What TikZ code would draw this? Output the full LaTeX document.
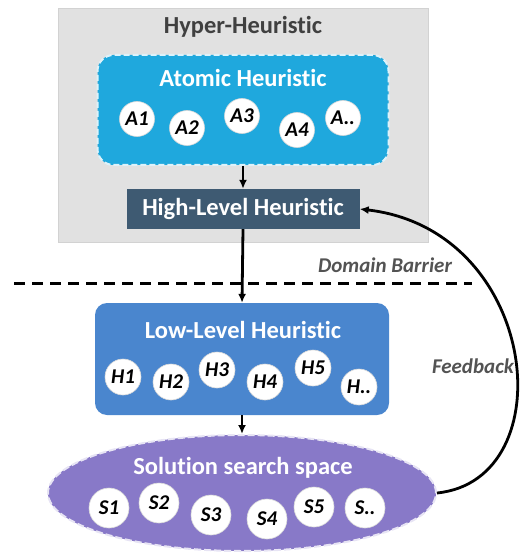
\documentclass[tikz,border=0pt]{standalone}
\usepackage{fontspec}
\setmainfont[Ligatures={NoCommon}]{Carlito}
\usetikzlibrary{shapes.geometric,arrows.meta}
\definecolor{hyperbg}{HTML}{E1E1E1}
\definecolor{hyperbd}{HTML}{D2D2D2}
\definecolor{atomicc}{HTML}{1FA8DD}
\definecolor{highc}{HTML}{3E5A72}
\definecolor{lowc}{HTML}{4A86CE}
\definecolor{solc}{HTML}{8879C8}
\definecolor{txtgray}{HTML}{404040}
\tikzset{
  circ/.style={circle,fill=white,draw=white!85!black,line width=0.6pt,minimum size=#1,inner sep=0pt,font=\fontsize{21}{23}\selectfont\bfseries\itshape},
  circ/.default=35pt,
  arr/.style={-{Latex[length=9pt,width=8pt]},line width=2.8pt,black},
  title/.style={font=\fontsize{24.5}{28}\selectfont\bfseries,text=white},
  lbl/.style={font=\fontsize{21}{24}\selectfont\bfseries\itshape,text=txtgray!90!white}
}
\begin{document}
\begin{tikzpicture}[x=1pt,y=-1pt]
\useasboundingbox (0,0) rectangle (520,553);
% Hyper-Heuristic container
\node[draw=hyperbd,fill=hyperbg,minimum width=370pt,minimum height=234pt,inner sep=0pt] (hyper) at (243,125) {};
\node[font=\fontsize{24.5}{28}\selectfont\bfseries,text=txtgray] (hypert) at (243,27) {Hyper-Heuristic};
% Atomic heuristic
\node[fill=atomicc,draw=white!85!atomicc,dash pattern=on 6pt off 3pt,line width=2pt,rounded corners=16pt,minimum width=291pt,minimum height=110pt,inner sep=0pt] (atomic) at (243,110) {};
\node[title] (atomict) at (243,78) {Atomic Heuristic};
\node[circ] (a1) at (137,119) {A1};
\node[circ] (a2) at (187,128) {A2};
\node[circ] (a3) at (242,116) {A3};
\node[circ] (a4) at (297,130) {A4};
\node[circ] (a5) at (343,118) {A..};
% High-level heuristic
\node[fill=highc,minimum width=233pt,minimum height=40pt,inner sep=0pt,title] (high) at (243,209) {High-Level Heuristic};
% Domain barrier
\coordinate (bl) at (14,283);
\coordinate (br) at (472,283);
\draw[line width=3pt,dash pattern=on 11pt off 7pt] (bl) -- (br);
\node[lbl] (dom) at (385,265) {Domain Barrier};
% Low-level heuristic
\node[fill=lowc,rounded corners=12pt,minimum width=294pt,minimum height=112pt,inner sep=0pt] (low) at (242,359) {};
\node[title] (lowt) at (243,330) {Low-Level Heuristic};
\node[circ=36pt] (h1) at (123,377) {H1};
\node[circ=36pt] (h2) at (171,382) {H2};
\node[circ=36pt] (h3) at (217,370) {H3};
\node[circ=36pt] (h4) at (265,382) {H4};
\node[circ=36pt] (h5) at (313,368) {H5};
\node[circ=36pt] (h6) at (359,387) {H..};
% Solution search space
\node[ellipse,fill=solc,draw=white!80!solc,dash pattern=on 7pt off 3pt,line width=2pt,minimum width=388pt,minimum height=116pt,inner sep=0pt] (sol) at (242,493) {};
\node[title] (solt) at (243,468) {Solution search space};
\node[circ=40pt] (s1) at (109,508) {S1};
\node[circ=40pt] (s2) at (159,503) {S2};
\node[circ=40pt] (s3) at (211,515) {S3};
\node[circ=40pt] (s4) at (267,519) {S4};
\node[circ=40pt] (s5) at (314,507) {S5};
\node[circ=40pt] (s6) at (365,508) {S..};
% Arrows
\draw[arr] (atomic.south) -- (high.north);
\draw[arr] (high.south) -- (low.north);
\draw[arr] (low.south) -- (sol.north);
\draw[arr] (sol.east) .. controls (565,480) and (540,230) .. (high.east);
\node[lbl] (fb) at (473,366) {Feedback};
\end{tikzpicture}
\end{document}
